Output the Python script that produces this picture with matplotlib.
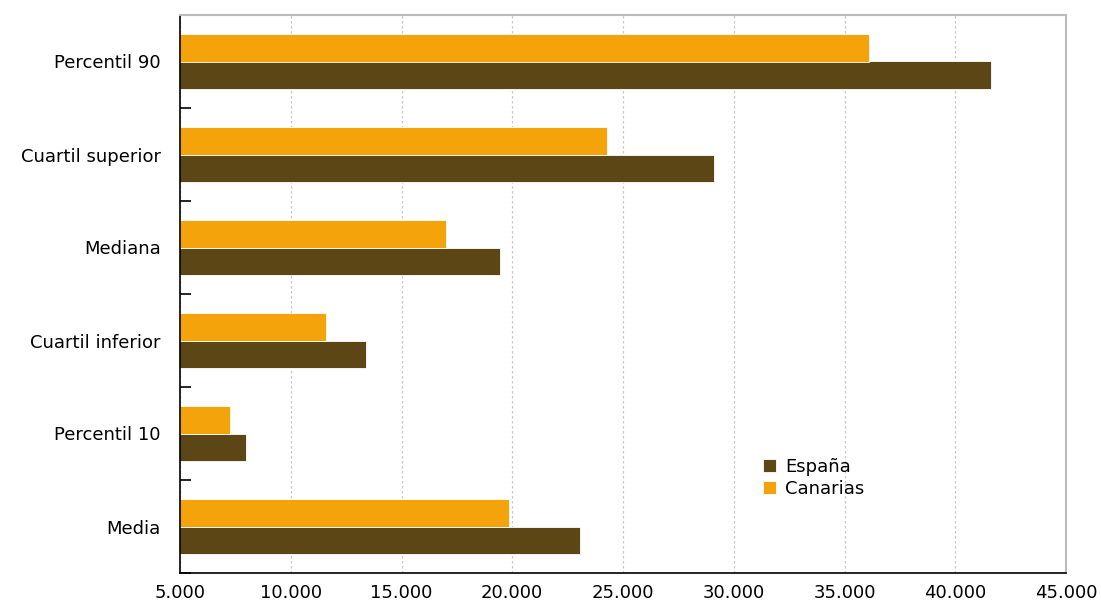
import matplotlib.pyplot as plt
import numpy as np
from matplotlib.ticker import FuncFormatter, MultipleLocator

plt.rcParams['font.family'] = ['DejaVu Sans']

# Categories from bottom to top
categorias = ["Media", "Percentil 10", "Cuartil inferior", "Mediana",
              "Cuartil superior", "Percentil 90"]
espana = [23060, 7980, 13400, 19450, 29100, 41600]
canarias = [19850, 7260, 11600, 17000, 24300, 36100]

col_esp = "#5C4616"
col_can = "#F5A30A"

fig = plt.figure(figsize=(11.01, 6.03), dpi=100)
ax = fig.add_axes([180 / 1101, 30 / 603, 886 / 1101, 558 / 603])

y = np.arange(len(categorias))
h = 0.295
ax.barh(y - h / 2, espana, height=h, color=col_esp, label="España",
        edgecolor="white", linewidth=0.6)
ax.barh(y + h / 2, canarias, height=h, color=col_can, label="Canarias",
        edgecolor="white", linewidth=0.6)

ax.set_xlim(5000, 45000)
ax.set_ylim(-0.5, len(categorias) - 0.5)
ax.xaxis.set_major_locator(MultipleLocator(5000))
ax.xaxis.set_major_formatter(FuncFormatter(lambda v, p: f"{int(v):,}".replace(",", ".")))
ax.set_yticks(y)
ax.set_yticklabels(categorias)
ax.set_yticks(np.arange(-0.5, len(categorias), 1), minor=True)

ax.tick_params(axis="x", length=0, labelsize=13, pad=8)
ax.tick_params(axis="y", which="both", direction="in", length=8, width=1.2,
               labelsize=13, pad=14, color="black")

ax.grid(axis="x", linestyle=(0, (2, 2)), color="#C8C8C8", linewidth=0.9)
ax.set_axisbelow(True)

for s in ["top", "right"]:
    ax.spines[s].set_color("#BBBBBB")
    ax.spines[s].set_linewidth(1.5)
for s in ["left", "bottom"]:
    ax.spines[s].set_color("black")
    ax.spines[s].set_linewidth(1.2)

handles, labels = ax.get_legend_handles_labels()
ax.legend(handles, labels, loc="upper left", bbox_to_anchor=(0.64, 0.235),
          frameon=False, fontsize=13, handlelength=0.7, handleheight=0.7,
          handletextpad=0.5, labelspacing=0.2)

fig.savefig("out.png", dpi=100)
